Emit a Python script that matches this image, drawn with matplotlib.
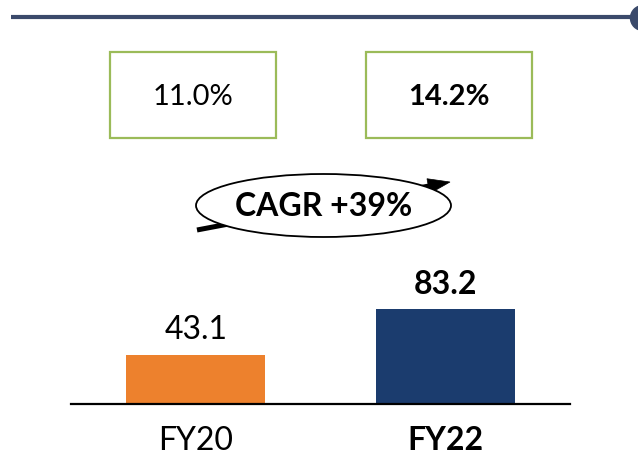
import matplotlib
matplotlib.use("Agg")
import matplotlib.pyplot as plt
import numpy as np
from matplotlib.patches import Ellipse, Rectangle, Circle, Polygon

# data
years = ["FY20", "FY22"]
revenue = [43.1, 83.2]
margins = ["11.0%", "14.2%"]
cagr = "CAGR +39%"

ORANGE = "#ED812D"
NAVY = "#1B3C6E"
LINE = "#3B4A6B"
GREEN = "#9BBB59"

plt.rcParams["font.family"] = ["Lato", "DejaVu Sans"]

W, H = 638, 457
fig = plt.figure(figsize=(W / 100, H / 100), dpi=100)

# bar axes placed in pixel space
ax = fig.add_axes([71 / W, 53 / H, 499 / W, 200 / H])
bars = ax.bar(range(len(years)), revenue, width=0.558, color=[ORANGE, NAVY], zorder=2)
ax.set_xlim(-0.5, 1.5)
ax.set_ylim(0, 200 / 1.14)
for s in ["top", "right", "left"]:
    ax.spines[s].set_visible(False)
ax.spines["bottom"].set_linewidth(1.6)
ax.spines["bottom"].set_color("black")
ax.set_yticks([])
ax.set_xticks(range(len(years)))
ax.set_xticklabels(years, fontsize=23)
ax.tick_params(axis="x", length=0, pad=16)
ax.get_xticklabels()[1].set_fontweight("bold")
ax.patch.set_alpha(0)

for i, v in enumerate(revenue):
    ax.annotate(f"{v:.1f}", (i, v), xytext=(0, 18), textcoords="offset points",
                ha="center", va="center", fontsize=23,
                fontweight="bold" if i == 1 else "normal")

# overlay for decorations, pixel coords
ov = fig.add_axes([0, 0, 1, 1])
ov.set_xlim(0, W)
ov.set_ylim(H, 0)
ov.axis("off")
ov.patch.set_alpha(0)

# top rule with end dot
ov.plot([11, 632], [17, 17], color=LINE, lw=3, solid_capstyle="butt")
ov.add_patch(Circle((643, 18), 12.5, color=LINE, clip_on=True))

# margin boxes
box_x = [110, 366]
for i, (bx, m) in enumerate(zip(box_x, margins)):
    ov.add_patch(Rectangle((bx, 52), 166, 86, fill=False, ec=GREEN, lw=1.6))
    ov.text(bx + 83, 97, m, ha="center", va="center", fontsize=21,
            fontweight="bold" if i == 1 else "normal")

# CAGR arrow behind ellipse: shaft + triangular head
start = np.array([197.0, 230.0])
tip = np.array([450.0, 182.0])
u = (tip - start) / np.linalg.norm(tip - start)
perp = np.array([-u[1], u[0]])
base = tip - 22 * u
ov.plot([start[0], base[0] + 2 * u[0]], [start[1], base[1] + 2 * u[1]],
        color="black", lw=3.6, solid_capstyle="butt", zorder=3)
ov.add_patch(Polygon([tip, base + 7.5 * perp, base - 7.5 * perp], closed=True,
                     fc="black", ec="black", lw=0.5, zorder=3))
ov.add_patch(Ellipse((323.5, 205.5), 255, 63, fc="white", ec="black", lw=1.3, zorder=4))
ov.text(323.5, 207, cagr, ha="center", va="center", fontsize=23, fontweight="bold", zorder=5)

fig.savefig("out.png", dpi=100, facecolor="white")
